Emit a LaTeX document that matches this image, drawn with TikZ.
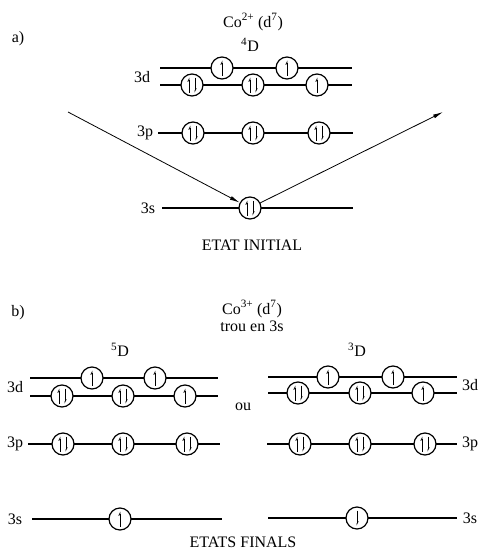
\documentclass[tikz,border=0pt]{standalone}
\usepackage{fontspec}
\setmainfont{Liberation Serif}
\usetikzlibrary{arrows.meta}

\begin{document}
\begin{tikzpicture}[
  x=1pt, y=-1pt,
  font=\fontsize{16}{18}\selectfont,
  level/.style={line width=2pt},
  orb/.style={
    circle,
    draw,
    line width=1.2pt,
    fill=white,
    minimum size=22pt,
    inner sep=0pt
  },
  spin/.style={line width=0.8pt, -{Straight Barb[left,length=2.5pt,width=2.5pt]}},
  onebar/.style={orb, path picture={
    \draw[spin] ([yshift=-7.5pt]path picture bounding box.center) -- ++(0pt,15pt);}},
  onebardown/.style={orb, path picture={
    \draw[spin] ([yshift=7.5pt]path picture bounding box.center) -- ++(0pt,-15pt);}},
  twobar/.style={orb, path picture={
    \draw[spin] ([xshift=-3pt,yshift=-7.5pt]path picture bounding box.center) -- ++(0pt,15pt);
    \draw[spin] ([xshift=3pt,yshift=7.5pt]path picture bounding box.center) -- ++(0pt,-15pt);}},
  arrow/.style={-{Latex[length=10pt,width=4pt]}, line width=0.8pt}
]
\useasboundingbox (0,0) rectangle (480,551);

% a) initial state
\node (lblA) at (18,39) {a)};
\node (ionA) at (253,22) {Co\textsuperscript{2+} (d\textsuperscript{7})};
\node (termA) at (250,45) {\textsuperscript{4}D};

\draw[level] (160,68) -- (352,68);
\draw[level] (160,85) -- (352,85);
\draw[level] (158,133) -- (353,133);
\draw[level] (162,208) -- (353,208);

\node (iniDlbl) at (142,77) {3d};
\node (iniPlbl) at (145,133) {3p};
\node (iniSlbl) at (148,208) {3s};

\node[onebar] (iniDa) at (222,68) {};
\node[onebar] (iniDb) at (287,68) {};
\node[twobar] (iniDc) at (192,85) {};
\node[twobar] (iniDd) at (253,85) {};
\node[onebar] (iniDe) at (317,85) {};

\node[twobar] (iniPa) at (193,133) {};
\node[twobar] (iniPb) at (253,133) {};
\node[twobar] (iniPc) at (319,133) {};

\node[twobar] (iniS) at (250,208) {};

\coordinate (photonIn) at (68,112);
\coordinate (electronOut) at (443,112);
\draw[arrow] (photonIn) -- (iniS);
\draw[arrow] (iniS) -- (electronOut);

\node (iniTitle) at (252,245) {ETAT INITIAL};

% b) final states
\node (lblB) at (18,313) {b)};
\node (ionB) at (252,309) {Co\textsuperscript{3+} (d\textsuperscript{7})};
\node (holeB) at (252,326) {trou en 3s};
\node (termL) at (120,350) {\textsuperscript{5}D};
\node (termR) at (357,350) {\textsuperscript{3}D};
\node (ou) at (243,407) {ou};

% left: 5D
\draw[level] (30,378) -- (218,378);
\draw[level] (30,396) -- (218,396);
\draw[level] (28,444) -- (220,444);
\draw[level] (32,519) -- (222,519);

\node (finLDlbl) at (15,387) {3d};
\node (finLPlbl) at (15,444) {3p};
\node (finLSlbl) at (15,519) {3s};

\node[onebar] (finLDa) at (92,378) {};
\node[onebar] (finLDb) at (155,378) {};
\node[twobar] (finLDc) at (62,396) {};
\node[twobar] (finLDd) at (123,396) {};
\node[onebar] (finLDe) at (185,396) {};

\node[twobar] (finLPa) at (63,444) {};
\node[twobar] (finLPb) at (123,444) {};
\node[twobar] (finLPc) at (187,444) {};

\node[onebar] (finLS) at (120,519) {};

% right: 3D
\draw[level] (268,377) -- (457,377);
\draw[level] (268,393) -- (457,393);
\draw[level] (267,444) -- (457,444);
\draw[level] (268,518) -- (457,518);

\node (finRDlbl) at (470,385) {3d};
\node (finRPlbl) at (470,444) {3p};
\node (finRSlbl) at (470,518) {3s};

\node[onebar] (finRDa) at (328,377) {};
\node[onebar] (finRDb) at (393,377) {};
\node[twobar] (finRDc) at (298,393) {};
\node[twobar] (finRDd) at (360,393) {};
\node[onebar] (finRDe) at (423,393) {};

\node[twobar] (finRPa) at (300,444) {};
\node[twobar] (finRPb) at (360,444) {};
\node[twobar] (finRPc) at (425,444) {};

\node[onebardown] (finRS) at (357,518) {};

\node (finTitle) at (243,542) {ETATS FINALS};

\end{tikzpicture}
\end{document}
